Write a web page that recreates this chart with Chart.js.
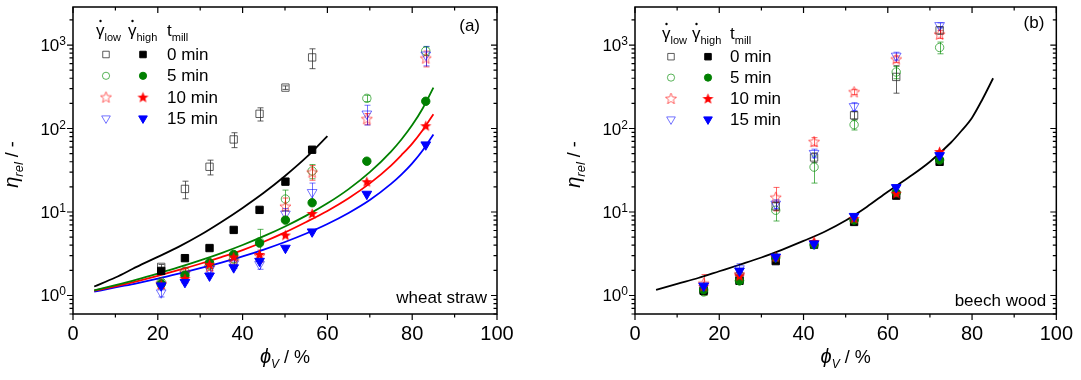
<!DOCTYPE html>
<html>
<head>
<meta charset="utf-8">
<script src="https://cdn.jsdelivr.net/npm/chart.js@4.4.0/dist/chart.umd.min.js"></script>
<style>
  body { margin: 0; background: #fff; width: 1081px; height: 380px; overflow: hidden; position: relative; }
  .box { position: absolute; top: 0; height: 380px; }
</style>
</head>
<body>
<div class="box" style="left:0;width:540px"><canvas id="chartA"></canvas></div>
<div class="box" style="left:540px;width:541px"><canvas id="chartB"></canvas></div>
<script>
// wheat straw (a)
const phiA = [20.8, 26.4, 32.2, 37.9, 44.0, 50.1, 56.4, 69.3, 83.2];
const aLow0 = [2.2, 18.9, 34.8, 74, 150, 309, 711, null, null];
const aLow5 = [1.45, 1.95, 2.3, 2.75, 4.4, 14.3, 31, 230, 850];
const aLow10 = [1.4, 1.9, 2.2, 2.6, 3.0, 11.7, 30, 131, 697];
const aLow15 = [1.08, 1.75, 2.06, 2.4, 2.36, 9.5, 17.2, 150, 763];
const aLowErr0 = [0.15, 4.5, 7, 15, 27, 15, 190, null, null];
const aLowErr5 = [0.1, 0.2, 0.2, 0.3, 1.8, 4, 6, 20, 100];
const aLowErr10 = [0.1, 0.2, 0.2, 0.3, 0.5, 3, 6, 20, 150];
const aLowErr15 = [0.12, 0.15, 0.2, 0.3, 0.3, 1.5, 5, 40, 200];
const aHigh0 = [1.97, 2.8, 3.7, 6.1, 10.6, 23.1, 55.7, null, null];
const aHigh5 = [1.37, 1.75, 2.47, 3.1, 4.24, 8.0, 12.9, 40.6, 212];
const aHigh10 = [1.35, 1.6, 2.36, 2.9, 3.1, 5.3, 9.6, 23.1, 108];
const aHigh15 = [1.31, 1.44, 1.72, 2.16, 2.58, 3.7, 5.8, 16.4, 64];

// model curves
const fitPhi = [5, 10, 15, 20, 25, 30, 35, 40, 45, 50, 55, 60, 65, 70, 75, 77.5, 80, 82.5, 85];
const aFit0 = [1.28, 1.64, 2.2, 2.9, 3.85, 5.3, 7.6, 11.2, 17, 27, 45, 81];
const aFit5 = [1.15, 1.33, 1.55, 1.83, 2.18, 2.63, 3.22, 4.02, 5.13, 6.71, 9.05, 12.7, 18.8, 30.0, 52.9, 74.4, 110, 175, 309];
const aFit10 = [1.14, 1.29, 1.48, 1.72, 2.02, 2.4, 2.88, 3.5, 4.4, 5.7, 7.6, 10.3, 14.6, 22, 36, 48.2, 66, 96, 148];
const aFit15 = [1.11, 1.25, 1.40, 1.59, 1.83, 2.12, 2.48, 2.94, 3.55, 4.37, 5.52, 7.18, 9.73, 13.9, 21.7, 28.2, 38.2, 54.8, 85];

// beech wood (b)
const phiB = [16.3, 24.8, 33.4, 42.5, 52.0, 62.0, 72.3];
const bLow0 = [1.2, 1.7, 11.7, 45, 144, 415, 1500];
const bLow5 = [1.1, 1.5, 10.5, 34.5, 111, 475, 935];
const bLow10 = [1.4, 1.8, 15, 69.7, 275, 680, 1350];
const bLow15 = [1.3, 2.1, 12.5, 50.6, 184, 740, 1720];
const bLowErr0 = [0.1, 0.1, 1.2, 6, 15, 150, 150];
const bLowErr5 = [0.1, 0.1, 2.7, 12.3, 15, 80, 150];
const bLowErr10 = [0.38, 0.2, 4.7, 8, 20, 60, 150];
const bLowErr15 = [0.1, 0.3, 1.5, 6, 20, 80, 120];
const bHigh0 = [1.14, 1.5, 2.58, 4.06, 7.6, 15.7, 39.9];
const bHigh5 = [1.17, 1.5, 2.83, 4.06, 8.0, 17, 42];
const bHigh10 = [1.29, 1.72, 2.9, 4.44, 8.4, 16.8, 53];
const bHigh15 = [1.3, 1.97, 2.9, 4.17, 8.9, 19.7, 47.6];
const bFit0 = [1.17, 1.38, 1.62, 1.95, 2.35, 2.85, 3.55, 4.5, 5.8, 7.9, 11.5, 17.5, 26, 40, 68, 94, 135, 226, 400];

const millLabels = ['0 min', '5 min', '10 min', '15 min'];
const xTicks = [0, 20, 40, 60, 80, 100];
const yDecades = [0, 1, 2, 3];

const F = '"Liberation Sans", Arial, sans-serif';
Chart.defaults.font.family = F;

function starImage(color, filled) {
  const c = document.createElement('canvas');
  c.width = 13; c.height = 13;
  const g = c.getContext('2d');
  g.beginPath();
  for (let i = 0; i < 10; i++) {
    const r = i % 2 ? 2.5 : 5.8;
    const a = -Math.PI / 2 + i * Math.PI / 5;
    g.lineTo(6.5 + r * Math.cos(a), 7 + r * Math.sin(a));
  }
  g.closePath();
  if (filled) { g.fillStyle = color; g.fill(); }
  else { g.strokeStyle = color; g.lineWidth = 1; g.stroke(); }
  return c;
}

const styles = [
  { color: '#000000', light: 'rgba(40,40,40,0.75)', point: 'rect', r: 5.2, rot: 0 },
  { color: '#008000', light: 'rgba(0,140,0,0.65)', point: 'circle', r: 4.2, rot: 0 },
  { color: '#ff0000', light: 'rgba(255,0,0,0.6)', point: 'star', r: 6, rot: 0 },
  { color: '#0000ff', light: 'rgba(0,0,255,0.55)', point: 'triangle', r: 5.6, rot: 180 }
];
styles.forEach(s => {
  if (s.point === 'star') {
    s.openStyle = starImage(s.light, false);
    s.fillStyle = starImage(s.color, true);
  } else {
    s.openStyle = s.point;
    s.fillStyle = s.point;
  }
});

function pts(xs, ys, es) {
  return xs.map((x, i) => ({ x: x, y: ys[i], e: es ? es[i] : null })).filter(p => p.y != null);
}

function buildDatasets(phi, lows, errs, highs, fits) {
  const ds = [];
  fits.forEach((f, i) => {
    if (!f) return;
    ds.push({
      type: 'line',
      data: f.map((v, j) => ({ x: fitPhi[j], y: v })),
      borderColor: styles[i].color, borderWidth: 1.8,
      pointRadius: 0, cubicInterpolationMode: 'monotone', order: 20
    });
  });
  lows.forEach((l, i) => {
    const s = styles[i];
    ds.push({
      data: pts(phi, l, errs[i]), errColor: s.light,
      pointStyle: s.openStyle, pointRadius: s.r, pointRotation: s.rot,
      backgroundColor: 'rgba(0,0,0,0)', borderColor: s.light, borderWidth: 1,
      showLine: false, order: 19 - i
    });
  });
  highs.forEach((h, i) => {
    const s = styles[i];
    ds.push({
      data: pts(phi, h), pointStyle: s.fillStyle, pointRadius: s.r, pointRotation: s.rot,
      backgroundColor: s.color, borderColor: s.color, borderWidth: 1,
      showLine: false, order: 9 - i
    });
  });
  return ds;
}

function drawRich(ctx, parts, x, y, align) {
  let w = 0;
  parts.forEach(p => { ctx.font = p.f; p.w = ctx.measureText(p.t).width; w += p.w; });
  let cx = align === 'center' ? x - w / 2 : align === 'right' ? x - w : x;
  ctx.textAlign = 'left';
  ctx.textBaseline = 'alphabetic';
  parts.forEach(p => { ctx.font = p.f; ctx.fillText(p.t, cx, y + (p.dy || 0)); cx += p.w; });
  return w;
}

const axisPlugin = {
  id: 'axisPlugin',
  beforeDatasetsDraw(chart) {
    const ctx = chart.ctx, xs = chart.scales.x, ys = chart.scales.y, ca = chart.chartArea;
    ctx.save();
    ctx.beginPath(); ctx.rect(ca.left, ca.top, ca.right - ca.left, ca.bottom - ca.top); ctx.clip();
    chart.data.datasets.forEach(ds => {
      if (!ds.errColor) return;
      ctx.strokeStyle = ds.errColor; ctx.lineWidth = 1;
      ds.data.forEach(p => {
        if (!p.e) return;
        const px = Math.round(xs.getPixelForValue(p.x)) + 0.5;
        const y1 = ys.getPixelForValue(p.y + p.e);
        const y2 = ys.getPixelForValue(Math.max(p.y - p.e, 0.05));
        ctx.beginPath();
        ctx.moveTo(px, y1); ctx.lineTo(px, y2);
        ctx.moveTo(px - 3, y1); ctx.lineTo(px + 3, y1);
        ctx.moveTo(px - 3, y2); ctx.lineTo(px + 3, y2);
        ctx.stroke();
      });
    });
    ctx.restore();
  },
  afterDraw(chart, args, o) {
    const ctx = chart.ctx, xs = chart.scales.x, ys = chart.scales.y, ca = chart.chartArea;
    ctx.save();
    ctx.strokeStyle = '#000'; ctx.fillStyle = '#000';
    ctx.lineWidth = 1.5;
    ctx.strokeRect(ca.left, ca.top, ca.right - ca.left, ca.bottom - ca.top);
    // x ticks
    ctx.lineWidth = 1.2;
    ctx.beginPath();
    for (let v = 0; v <= 100; v += 10) {
      const px = xs.getPixelForValue(v), len = v % 20 === 0 ? 6 : 3.5;
      ctx.moveTo(px, ca.bottom); ctx.lineTo(px, ca.bottom + len);
      ctx.moveTo(px, ca.top); ctx.lineTo(px, ca.top + len);
    }
    // y ticks
    for (let d = -1; d <= 4; d++) {
      for (let m = 1; m <= 9; m++) {
        const v = m * Math.pow(10, d);
        if (v < ys.min || v > ys.max) continue;
        const py = ys.getPixelForValue(v), len = m === 1 ? 6 : 3.5;
        ctx.moveTo(ca.left, py); ctx.lineTo(ca.left - len, py);
        ctx.moveTo(ca.right, py); ctx.lineTo(ca.right - len, py);
      }
    }
    ctx.stroke();
    // y tick labels 10^n
    yDecades.forEach(d => {
      const py = ys.getPixelForValue(Math.pow(10, d));
      drawRich(ctx, [{ t: '10', f: `17px ${F}`, dy: 6 }, { t: String(d), f: `12px ${F}`, dy: 0 }], ca.left - 7, py, 'right');
    });
    // axis titles
    const xc = (ca.left + ca.right) / 2;
    drawRich(ctx, [
      { t: 'ϕ', f: `italic 20px ${F}` },
      { t: 'V', f: `italic 12px ${F}`, dy: 5 },
      { t: ' / %', f: `18px ${F}` }
    ], xc, 363, 'center');
    ctx.save();
    ctx.translate(ca.left - o.yTitleGap, (ca.top + ca.bottom) / 2 + 4);
    ctx.rotate(-Math.PI / 2);
    drawRich(ctx, [
      { t: 'η', f: `italic 20px ${F}` },
      { t: 'rel', f: `italic 13px ${F}`, dy: 5 },
      { t: ' / -', f: `18px ${F}` }
    ], 0, 0, 'center');
    ctx.restore();
    // panel label and material
    drawRich(ctx, [{ t: o.tag, f: `17px ${F}` }], ca.right - o.tagDx, ca.top + o.tagDy, 'right');
    drawRich(ctx, [{ t: o.material, f: `17px ${F}` }], ca.right - 10, o.matY, 'right');
    // legend
    const lg = o.legend;
    const gx1 = ca.left + lg.g1, gx2 = ca.left + lg.g2, tx = ca.left + lg.tx;
    drawRich(ctx, [{ t: 'γ', f: `17px ${F}` }, { t: 'low', f: `11px ${F}`, dy: 5 }], gx1, lg.hy, 'left');
    drawRich(ctx, [{ t: 'γ', f: `17px ${F}` }, { t: 'high', f: `11px ${F}`, dy: 5 }], gx2, lg.hy, 'left');
    drawRich(ctx, [{ t: 't', f: `17px ${F}` }, { t: 'mill', f: `11px ${F}`, dy: 5 }], tx, lg.hy, 'left');
    [gx1, gx2].forEach(gx => { ctx.beginPath(); ctx.arc(gx + 4.5, lg.hy - 15, 1.2, 0, Math.PI * 2); ctx.fill(); });
    millLabels.forEach((lab, i) => {
      const s = styles[i], ry = lg.ry + i * lg.rs;
      ctx.save();
      ctx.lineWidth = 1;
      ctx.strokeStyle = s.light; ctx.fillStyle = 'rgba(0,0,0,0)';
      Chart.helpers.drawPoint(ctx, { pointStyle: s.openStyle, radius: s.r - 0.6, rotation: s.rot, borderWidth: 1 }, ca.left + lg.ox, ry);
      ctx.strokeStyle = s.color; ctx.fillStyle = s.color;
      Chart.helpers.drawPoint(ctx, { pointStyle: s.fillStyle, radius: s.r - 0.6, rotation: s.rot, borderWidth: 1 }, ca.left + lg.fx, ry);
      ctx.restore();
      ctx.fillStyle = '#000';
      ctx.font = `17px ${F}`;
      ctx.textBaseline = 'middle'; ctx.textAlign = 'left';
      ctx.fillText(lab, tx, ry + 1);
    });
    ctx.restore();
  }
};

function makePanel(id, datasets, pad, yWidth, opts) {
  return new Chart(document.getElementById(id), {
    type: 'scatter',
    data: { datasets: datasets },
    plugins: [axisPlugin],
    options: {
      responsive: true, maintainAspectRatio: false, animation: false, devicePixelRatio: 1,
      events: [],
      layout: { padding: pad },
      plugins: { legend: { display: false }, tooltip: { enabled: false }, axisPlugin: opts },
      scales: {
        x: {
          type: 'linear', min: 0, max: 100,
          afterBuildTicks: s => { s.ticks = xTicks.map(v => ({ value: v })); },
          ticks: { color: '#000', font: { size: 20 }, padding: 8, maxRotation: 0 },
          grid: { display: false, drawTicks: false }, border: { display: false },
          afterFit: s => { s.height = 66; }
        },
        y: {
          type: 'logarithmic', min: 0.626, max: 2855,
          ticks: { display: false },
          grid: { display: false, drawTicks: false }, border: { display: false },
          afterFit: s => { s.width = yWidth; }
        }
      }
    }
  });
}

makePanel('chartA',
  buildDatasets(phiA, [aLow0, aLow5, aLow10, aLow15], [aLowErr0, aLowErr5, aLowErr10, aLowErr15],
    [aHigh0, aHigh5, aHigh10, aHigh15], [aFit0, aFit5, aFit10, aFit15]),
  { left: 0, right: 43, top: 3, bottom: 0 }, 73,
  { tag: '(a)', tagDx: 17, tagDy: 24, material: 'wheat straw', matY: 303, yTitleGap: 55,
    legend: { g1: 23, g2: 55, tx: 94, hy: 36, ox: 33, fx: 70, ry: 54.5, rs: 21.3 } });

makePanel('chartB',
  buildDatasets(phiB, [bLow0, bLow5, bLow10, bLow15], [bLowErr0, bLowErr5, bLowErr10, bLowErr15],
    [bHigh0, bHigh5, bHigh10, bHigh15], [bFit0]),
  { left: 0, right: 23, top: 3, bottom: 0 }, 95,
  { tag: '(b)', tagDx: 12, tagDy: 21, material: 'beech wood', matY: 306, yTitleGap: 55,
    legend: { g1: 27, g2: 57, tx: 95, hy: 39, ox: 36, fx: 73, ry: 56.7, rs: 20.9 } });
</script>
</body>
</html>
